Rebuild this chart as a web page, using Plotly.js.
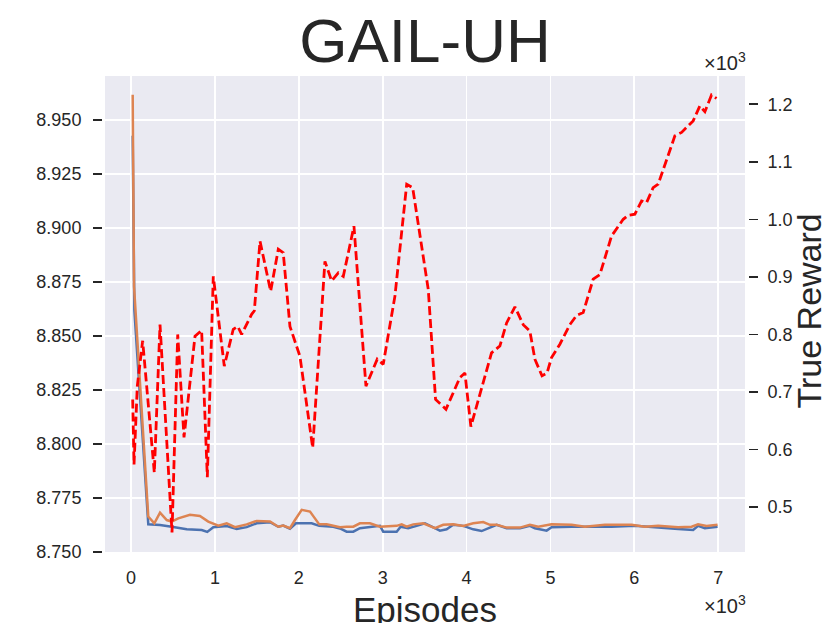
<!DOCTYPE html>
<html>
<head>
<meta charset="utf-8">
<script src="https://cdn.plot.ly/plotly-3.0.1.min.js"></script>
<style>
  html, body { margin: 0; padding: 0; background: #fff; }
  #plot { width: 830px; height: 623px; }
</style>
</head>
<body>
<div id="plot"></div>
<script>
// episodes (x) and values
let blue_x = [20, 40, 206, 346, 485, 564, 664, 843, 909, 981, 1061, 1141, 1260, 1379, 1498, 1657, 1756, 1815, 1895, 1967, 2154, 2244, 2411, 2491, 2571, 2650, 2729, 2849, 2968, 3007, 3167, 3215, 3305, 3405, 3504, 3623, 3683, 3763, 3841, 3961, 4080, 4180, 4279, 4359, 4478, 4637, 4756, 4815, 4955, 5014, 5253, 5570, 5729, 6007, 6285, 6523, 6702, 6761, 6841, 6993];
let blue_y = [8.9427, 8.862, 8.7628, 8.7625, 8.7617, 8.7612, 8.7605, 8.7602, 8.7593, 8.7615, 8.7617, 8.7620, 8.7607, 8.7615, 8.7633, 8.7638, 8.7617, 8.7622, 8.7608, 8.7633, 8.7633, 8.7621, 8.7617, 8.7609, 8.7594, 8.7594, 8.7610, 8.7615, 8.7621, 8.7594, 8.7594, 8.7617, 8.7610, 8.7621, 8.7633, 8.7610, 8.7599, 8.7605, 8.7626, 8.7621, 8.7605, 8.7597, 8.7613, 8.7626, 8.7610, 8.7610, 8.7621, 8.7610, 8.7599, 8.7615, 8.7617, 8.7615, 8.7617, 8.7621, 8.7615, 8.7607, 8.7602, 8.7621, 8.7610, 8.7617];

let orange_x = [20, 36, 206, 278, 346, 426, 485, 564, 703, 822, 921, 1041, 1141, 1240, 1379, 1498, 1657, 1756, 1815, 1895, 1955, 2035, 2134, 2244, 2333, 2491, 2571, 2650, 2729, 2849, 2968, 3167, 3227, 3286, 3365, 3484, 3623, 3722, 3841, 3961, 4080, 4199, 4279, 4359, 4478, 4637, 4756, 4855, 5014, 5253, 5411, 5650, 5968, 6126, 6285, 6523, 6683, 6761, 6862, 6993];
let orange_y = [8.9617, 8.873, 8.7664, 8.7633, 8.7682, 8.7648, 8.7641, 8.7656, 8.7672, 8.7667, 8.7641, 8.7622, 8.7633, 8.7615, 8.7628, 8.7644, 8.7641, 8.7617, 8.7622, 8.7610, 8.7648, 8.7695, 8.7687, 8.7628, 8.7628, 8.7615, 8.7617, 8.7617, 8.7633, 8.7633, 8.7617, 8.7621, 8.7628, 8.7617, 8.7628, 8.7633, 8.7610, 8.7626, 8.7628, 8.7621, 8.7633, 8.7639, 8.7626, 8.7626, 8.7613, 8.7613, 8.7626, 8.7617, 8.7628, 8.7626, 8.7617, 8.7626, 8.7626, 8.7617, 8.7621, 8.7615, 8.7617, 8.7628, 8.7621, 8.7626];

let reward_x = [20, 36, 75, 139, 278, 346, 489, 557, 632, 763, 842, 910, 981, 1112, 1219, 1272, 1319, 1438, 1470, 1538, 1665, 1756, 1815, 1895, 2014, 2166, 2312, 2392, 2471, 2531, 2658, 2801, 2936, 3007, 3147, 3287, 3358, 3544, 3631, 3755, 3921, 3981, 4052, 4298, 4398, 4478, 4577, 4676, 4755, 4815, 4900, 4960, 5014, 5113, 5232, 5312, 5391, 5510, 5590, 5729, 5868, 5927, 6007, 6087, 6146, 6225, 6285, 6385, 6484, 6564, 6702, 6782, 6842, 6921, 6981];
let reward_y = [687, 574, 710, 789, 560, 817, 456, 800, 621, 797, 807, 552, 901, 745, 809, 814, 800, 835, 841, 962, 875, 948, 942, 814, 762, 603, 927, 893, 907, 901, 988, 710, 757, 748, 867, 1061, 1055, 878, 687, 670, 725, 733, 640, 768, 780, 820, 848, 817, 806, 757, 728, 733, 760, 783, 817, 833, 838, 896, 904, 971, 1000, 1007, 1009, 1032, 1029, 1055, 1061, 1104, 1145, 1151, 1171, 1197, 1187, 1216, 1210];

let x_ticks = [0, 1000, 2000, 3000, 4000, 5000, 6000, 7000];
let x_labels = ['0', '1', '2', '3', '4', '5', '6', '7'];
let left_ticks = [8.750, 8.775, 8.800, 8.825, 8.850, 8.875, 8.900, 8.925, 8.950];
let right_ticks = [500, 600, 700, 800, 900, 1000, 1100, 1200];
let right_labels = ['0.5', '0.6', '0.7', '0.8', '0.9', '1.0', '1.1', '1.2'];

let plot = document.getElementById('plot');
let font = 'Liberation Sans, Arial, sans-serif';
let ink = '#262626';

let blue_trace = {
    x: blue_x, y: blue_y,
    mode: 'lines', line: {color: '#4c72b0', width: 2.5},
    yaxis: 'y', hoverinfo: 'skip'
};
let orange_trace = {
    x: orange_x, y: orange_y,
    mode: 'lines', line: {color: '#dd8452', width: 2.5},
    yaxis: 'y', hoverinfo: 'skip'
};
let reward_trace = {
    x: reward_x, y: reward_y,
    mode: 'lines', line: {color: '#ff0000', width: 2.8, dash: '9px,4px'},
    yaxis: 'y2', hoverinfo: 'skip'
};

let layout = {
    width: 830,
    height: 623,
    margin: {l: 102, r: 82, t: 76, b: 71},
    paper_bgcolor: '#ffffff',
    plot_bgcolor: '#eaeaf2',
    showlegend: false,
    font: {family: font, color: ink, size: 18},
    title: {
        text: 'GAIL-UH',
        font: {size: 62, color: ink},
        x: 0.512, xanchor: 'center',
        y: 0.935, yanchor: 'middle'
    },
    xaxis: {
        domain: [3 / 646, 643 / 646],
        range: [-310, 7320],
        tickvals: x_ticks,
        ticktext: x_labels,
        ticks: '',
        ticklabelstandoff: 13,
        showgrid: true,
        gridcolor: '#ffffff',
        gridwidth: 1.8,
        zeroline: false,
        showline: false,
        tickfont: {size: 18, color: ink}
    },
    yaxis: {
        anchor: 'free',
        position: 0,
        range: [8.750, 8.9704],
        tickvals: left_ticks,
        tickformat: '.3f',
        ticks: 'outside',
        ticklen: 9,
        tickwidth: 1.6,
        tickcolor: ink,
        ticklabelstandoff: 8,
        showgrid: true,
        gridcolor: '#ffffff',
        gridwidth: 1.8,
        zeroline: false,
        showline: false,
        tickfont: {size: 18, color: ink}
    },
    yaxis2: {
        overlaying: 'y',
        side: 'right',
        anchor: 'free',
        position: 1,
        range: [422, 1249],
        tickvals: right_ticks,
        ticktext: right_labels,
        ticks: 'outside',
        ticklen: 9,
        tickwidth: 1.6,
        tickcolor: ink,
        ticklabelstandoff: 6,
        showgrid: false,
        zeroline: false,
        showline: false,
        tickfont: {size: 18, color: ink}
    },
    annotations: [
        {
            text: '×10<sup>3</sup>', xref: 'paper', yref: 'paper',
            x: 1.0, y: 1.0, xanchor: 'right', yanchor: 'bottom',
            showarrow: false, font: {size: 20, color: ink}
        },
        {
            text: '×10<sup>3</sup>', xref: 'paper', yref: 'paper',
            x: 1.0, y: -0.08, xanchor: 'right', yanchor: 'top',
            showarrow: false, font: {size: 20, color: ink}
        },
        {
            text: 'Episodes', xref: 'paper', yref: 'paper',
            x: 0.5, y: -0.12, xanchor: 'center', yanchor: 'middle',
            showarrow: false, font: {size: 35, color: ink}
        },
        {
            text: 'True Reward', xref: 'paper', yref: 'paper',
            x: 1.095, y: 0.506, xanchor: 'center', yanchor: 'middle',
            textangle: -90,
            showarrow: false, font: {size: 34, color: ink}
        }
    ]
};

Plotly.newPlot(plot, [blue_trace, orange_trace, reward_trace], layout, {staticPlot: true});
</script>
</body>
</html>
